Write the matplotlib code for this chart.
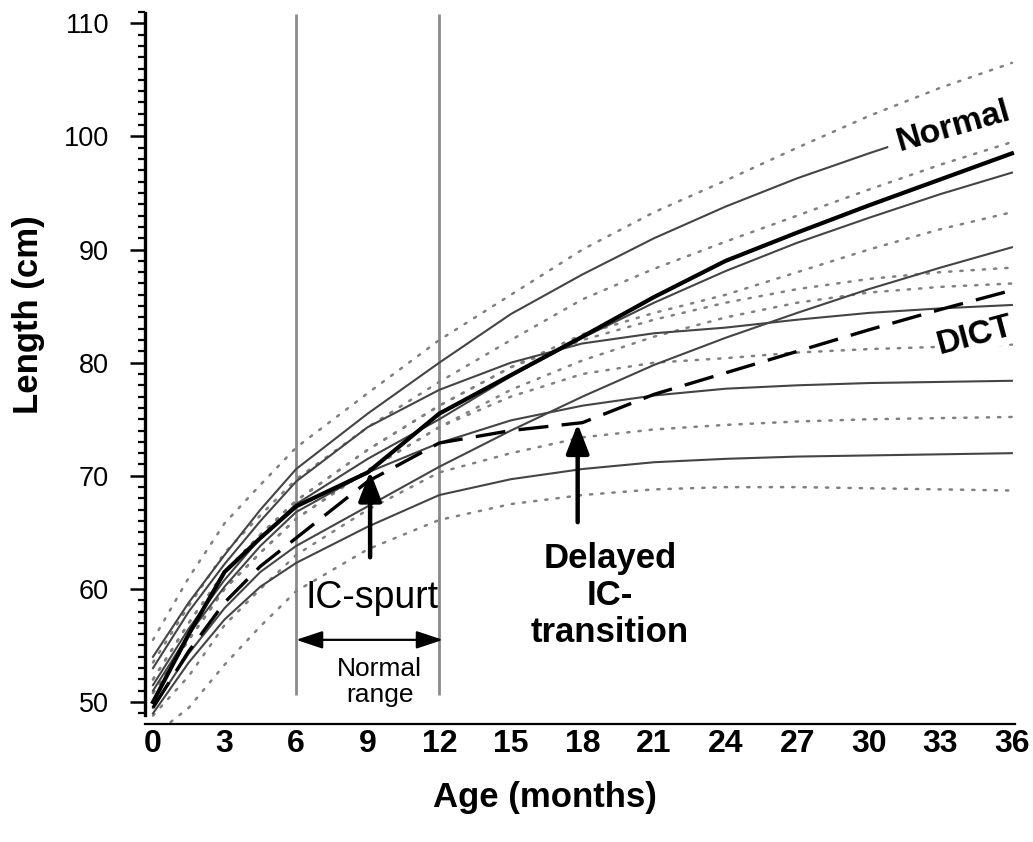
import matplotlib
matplotlib.use("Agg")
import matplotlib.pyplot as plt
import numpy as np

plt.rcParams['font.family'] = ['Liberation Sans', 'DejaVu Sans']

# ---------------- data ----------------
months = [0, 1.5, 3, 4.5, 6, 9, 12, 15, 18, 21, 24, 27, 30, 33, 36]

# reference (dotted) curves
dot_1 = [55.5, 61.0, 65.8, 69.2, 72.5, 77.3, 82.0, 86.0, 90.0, 93.3, 96.1, 99.0, 101.8, 104.3, 106.5]
dot_2 = [53.5, 58.5, 63.2, 66.5, 69.7, 74.3, 78.3, 82.0, 85.6, 88.3, 90.7, 93.0, 95.3, 97.5, 99.5]
dot_3 = [52.0, 57.0, 61.5, 64.8, 67.8, 72.3, 76.2, 79.6, 82.5, 84.4, 86.0, 88.0, 90.0, 91.8, 93.3]
dot_4 = [52.0, 57.0, 61.5, 64.8, 67.8, 72.3, 76.2, 79.6, 82.0, 83.8, 85.3, 86.5, 87.4, 88.0, 88.4]
dot_5 = [50.8, 55.5, 60.0, 63.2, 66.2, 70.5, 74.3, 77.6, 80.2, 82.3, 84.0, 85.3, 86.2, 86.7, 87.0]
dot_6 = [50.8, 55.5, 60.0, 63.2, 66.2, 70.5, 74.3, 77.0, 79.0, 80.0, 80.4, 80.9, 81.2, 81.4, 81.6]
dot_7 = [48.8, 52.3, 56.8, 60.0, 63.0, 67.0, 70.3, 72.0, 73.4, 74.1, 74.5, 74.8, 75.0, 75.1, 75.2]
dot_8 = [47.0, 49.5, 53.3, 56.7, 59.8, 63.5, 66.1, 67.5, 68.3, 68.8, 69.0, 69.0, 68.9, 68.8, 68.7]

# thin solid curves
sol_1 = [54.0, 58.8, 63.0, 67.0, 70.6, 75.5, 80.0, 84.3, 87.8, 91.0, 93.8, 96.3, 98.5, 100.6, 102.5]
sol_2 = [53.0, 58.0, 62.2, 66.0, 69.5, 74.3, 77.6, 80.0, 81.7, 82.6, 83.1, 83.8, 84.4, 84.8, 85.1]
sol_3 = [51.5, 56.5, 60.8, 64.5, 67.5, 71.5, 75.0, 78.8, 82.2, 85.3, 88.1, 90.6, 92.8, 94.9, 96.8]
sol_4 = [51.0, 56.0, 60.2, 63.8, 66.8, 70.3, 72.9, 74.9, 76.2, 77.1, 77.7, 78.0, 78.2, 78.3, 78.4]
sol_5 = [49.5, 54.3, 58.3, 61.5, 63.8, 67.3, 70.8, 74.0, 77.0, 79.8, 82.2, 84.4, 86.5, 88.4, 90.2]
sol_6 = [49.0, 53.5, 57.3, 60.2, 62.3, 65.5, 68.3, 69.7, 70.6, 71.2, 71.5, 71.7, 71.8, 71.9, 72.0]

# the two children
normal_child = [50.0, 56.0, 61.5, 64.5, 67.3, 70.3, 75.5, 78.9, 82.3, 85.8, 89.0, 91.5, 93.9, 96.2, 98.5]
dict_child = [49.5, 54.5, 58.8, 62.0, 64.5, 69.5, 72.9, 74.0, 74.7, 77.2, 79.1, 81.0, 82.9, 84.7, 86.4]

x_ticks = [0, 3, 6, 9, 12, 15, 18, 21, 24, 27, 30, 33, 36]
y_ticks = [50, 60, 70, 80, 90, 100, 110]
window_months = [6, 12]

# ---------------- figure ----------------
W, H = 1033, 842
fig = plt.figure(figsize=(W / 100, H / 100), dpi=100)
ax = fig.add_axes([145 / W, (H - 724) / H, 870 / W, 712 / H])
ax.set_xlim(-0.335, 36.13)
ax.set_ylim(48.06, 110.95)

dotted = [dot_1, dot_2, dot_3, dot_4, dot_5, dot_6, dot_7, dot_8]
solids = [sol_1, sol_2, sol_3, sol_4, sol_5, sol_6]

for d in dotted:
    ax.plot(months, d, color='#808080', lw=1.8, linestyle=(0, (0.9, 3.6)),
            dash_capstyle='round', zorder=2)
for s in solids:
    ax.plot(months, s, color='#444444', lw=1.5, zorder=3)

ax.plot(months, normal_child, color='black', lw=3.0, zorder=5)
ax.plot(months, dict_child, color='black', lw=2.4, linestyle=(0, (9, 4)), zorder=5)

ax.vlines(window_months, 50.6, 110.8, color='#8a8a8a', lw=2.0, zorder=1)

# spines & ticks
for side in ['top', 'right']:
    ax.spines[side].set_visible(False)
ax.spines['left'].set_linewidth(2.4)
ax.spines['left'].set_bounds(48.85, 110.95)
ax.spines['bottom'].set_linewidth(1.6)

ax.set_xticks(x_ticks)
ax.set_xticklabels([str(t) for t in x_ticks], fontsize=23, fontweight='bold')
ax.tick_params(axis='x', length=0, pad=3.5)

ax.set_yticks(y_ticks)
ax.set_yticks(np.arange(49, 112, 1), minor=True)
ax.set_yticklabels([str(t) for t in y_ticks], fontsize=19.5)
ax.tick_params(axis='y', which='major', length=11, width=1.8, pad=15, direction='out')
ax.tick_params(axis='y', which='minor', length=5, width=1.6, direction='out')

fig.text(545 / W, 1 - 797 / H, 'Age (months)', fontsize=25, fontweight='bold',
         ha='center', va='center')
fig.text(29 / W, 1 - 315 / H, 'Length (cm)', fontsize=25, fontweight='bold',
         ha='center', va='center', rotation=90)

# annotations
ax.text(33.55, 100.9, 'Normal', fontsize=24.5, fontweight='bold', rotation=16,
        ha='center', va='center', zorder=6,
        bbox=dict(facecolor='white', edgecolor='none', pad=7))
ax.text(34.45, 82.4, 'DICT', fontsize=24, fontweight='bold', rotation=15,
        ha='center', va='center', zorder=6,
        bbox=dict(facecolor='white', edgecolor='none', pad=1))

ax.text(9.18, 59.2, 'IC-spurt', fontsize=27, ha='center', va='center', zorder=6)
ax.text(9.5, 51.8, 'Normal\nrange', fontsize=19, ha='center', va='center',
        linespacing=1.1, zorder=6)
ax.text(19.15, 59.45, 'Delayed\nIC-\ntransition', fontsize=25, fontweight='bold',
        ha='center', va='center', linespacing=1.15, zorder=6)

ax.annotate('', xy=(9.1, 70.4), xytext=(9.1, 62.8),
            arrowprops=dict(arrowstyle='-|>,head_length=0.9,head_width=0.35',
                            lw=3.2, color='black', mutation_scale=20,
                            shrinkA=0, shrinkB=0), zorder=7)
ax.annotate('', xy=(17.8, 74.6), xytext=(17.8, 65.9),
            arrowprops=dict(arrowstyle='-|>,head_length=0.9,head_width=0.35',
                            lw=3.2, color='black', mutation_scale=20,
                            shrinkA=0, shrinkB=0), zorder=7)
ax.annotate('', xy=(6.0, 55.5), xytext=(12.15, 55.5),
            arrowprops=dict(arrowstyle='<|-|>,head_length=0.9,head_width=0.3',
                            lw=1.6, color='black', mutation_scale=18,
                            shrinkA=0, shrinkB=0), zorder=7)

fig.savefig('out.png', dpi=100, facecolor='white')
